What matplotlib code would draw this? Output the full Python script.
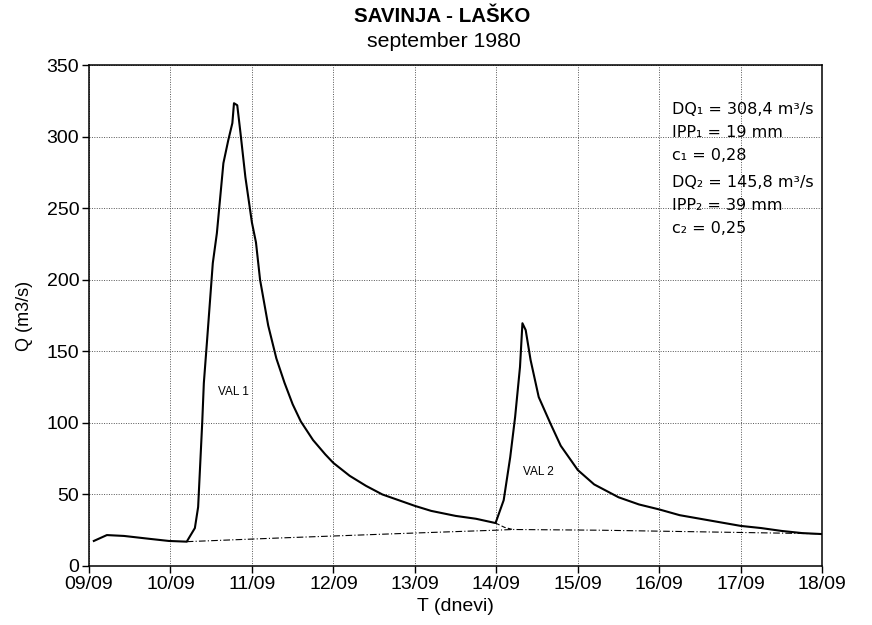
import matplotlib
matplotlib.use("Agg")
import matplotlib.pyplot as plt

plt.rcParams['font.family'] = ['Liberation Sans', 'DejaVu Sans']

# Data (days after 09/09 00:00, discharge m3/s)
t_days = [0.06, 0.22, 0.43, 0.74, 0.98, 1.2, 1.3, 1.34, 1.39, 1.41, 1.45, 1.52, 1.57,
          1.65, 1.71, 1.76, 1.78, 1.82, 1.86, 1.92, 2.0, 2.05, 2.1, 2.2, 2.3, 2.4,
          2.5, 2.6, 2.75, 2.9, 3.0, 3.2, 3.4, 3.6, 3.8, 4.0, 4.2, 4.5, 4.75,
          4.99, 5.09, 5.17, 5.23, 5.29, 5.32, 5.36, 5.42, 5.52, 5.66,
          5.79, 6.0, 6.2, 6.5, 6.75, 7.0, 7.25, 7.5, 7.75, 8.0, 8.25, 8.5, 8.75, 9.0]
q_values = [17.5, 21.6, 21.0, 19.0, 17.5, 17.0, 26.5, 41.2, 99.9, 127.8, 157.8, 211.6, 232.5,
            281.4, 297.5, 309.4, 323.3, 321.9, 302.4, 271.6, 240.0, 226.0, 200.0, 168.0, 145.0, 128.0,
            113.0, 101.0, 88.0, 78.0, 72.0, 63.0, 56.0, 50.0, 46.0, 42.0, 38.5, 35.0, 33.0,
            30.0, 46.0, 76.0, 104.0, 139.0, 169.6, 164.8, 143.9, 118.0, 100.0,
            84.0, 67.0, 57.0, 48.0, 43.0, 39.5, 35.5, 33.0, 30.5, 28.0, 26.5, 24.5, 23.0, 22.3]

# Baseflow separation (dashed)
base_t = [1.2, 2.35, 3.98, 4.99, 5.2, 6.28, 9.0]
base_q = [17.0, 19.6, 23.0, 25.0, 25.5, 25.0, 22.5]
ext_t = [4.99, 5.1, 5.2]
ext_q = [30.0, 27.0, 25.5]

x_ticks = list(range(10))
x_labels = ["09/09", "10/09", "11/09", "12/09", "13/09", "14/09", "15/09", "16/09", "17/09", "18/09"]
y_ticks = [0, 50, 100, 150, 200, 250, 300, 350]

notes = ["DQ\u2081 = 308,4 m\u00b3/s", "IPP\u2081 = 19 mm", "c\u2081 = 0,28",
         "DQ\u2082 = 145,8 m\u00b3/s", "IPP\u2082 = 39 mm", "c\u2082 = 0,25"]
note_q = [319, 303, 287, 268, 252, 236]

fig = plt.figure(figsize=(8.72, 6.25), dpi=100)
ax = fig.add_axes([0.102, 0.0944, 0.841, 0.8016])

ax.plot(t_days, q_values, color="black", lw=1.5, zorder=3)
ax.plot(base_t, base_q, color="black", lw=0.8, ls=(0, (6, 2, 1, 2)), zorder=2)
ax.plot(ext_t, ext_q, color="black", lw=0.8, ls=(0, (4, 2)), zorder=2)

ax.set_xlim(0, 9)
ax.set_ylim(0, 350)
ax.set_xticks(x_ticks)
ax.set_xticklabels(x_labels)
ax.set_yticks(y_ticks)
ax.grid(True, color="#555555", ls=(0, (1, 1.5)), lw=0.7)
ax.tick_params(labelsize=14, length=5, width=1, direction="out", colors="black", pad=2)
for s in ax.spines.values():
    s.set_linewidth(1.1)

ax.set_xlabel("T (dnevi)", fontsize=14, labelpad=4)
ax.set_ylabel("Q (m3/s)", fontsize=13, labelpad=10)

ax.text(1.77, 121.5, "VAL 1", fontsize=8.5, ha="center", va="center")
ax.text(5.52, 65.6, "VAL 2", fontsize=8.5, ha="center", va="center")

for s, q in zip(notes, note_q):
    ax.text(7.15, q, s, fontsize=11.5, ha="left", va="center", family=['DejaVu Sans'])

fig.text(0.507, 0.973, "SAVINJA - LA\u0160KO", ha="center", va="center", fontsize=14.8, fontweight="bold")
fig.text(0.509, 0.933, "september 1980", ha="center", va="center", fontsize=15.3)

fig.savefig("out.png", dpi=100)
